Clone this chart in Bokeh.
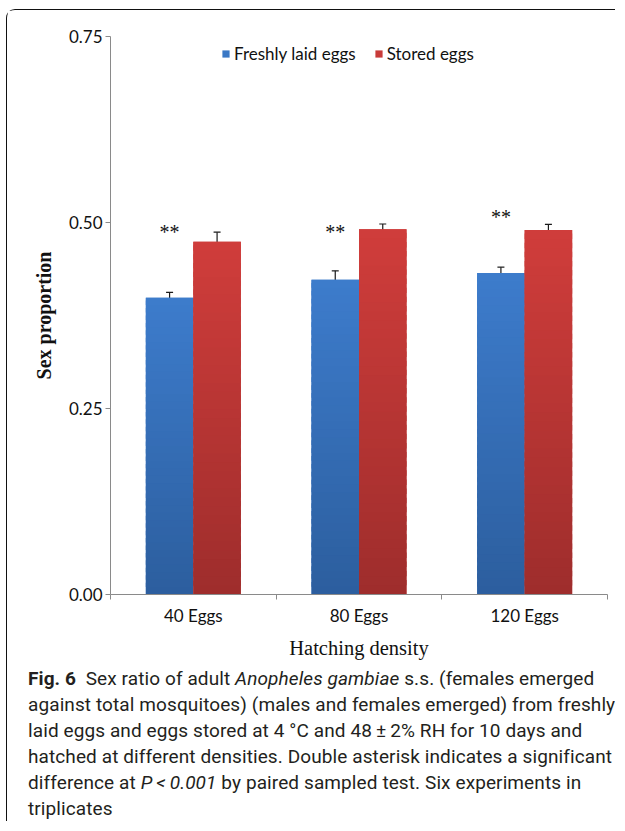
from bokeh.plotting import figure
from bokeh.models import (Range1d, FixedTicker, PrintfTickFormatter, Legend, LegendItem,
                          ColumnDataSource, Whisker, TeeHead, Div)
from bokeh.layouts import column
from bokeh.core.properties import value
from bokeh.embed import file_html
from bokeh.resources import INLINE

# ---- data ----
categories = ["40 Eggs", "80 Eggs", "120 Eggs"]
series_names = ["Freshly laid eggs", "Stored eggs"]
fresh = [0.399, 0.423, 0.432]
fresh_err = [0.007, 0.012, 0.008]
stored = [0.474, 0.491, 0.490]
stored_err = [0.013, 0.007, 0.0075]
sig_y = [0.487, 0.487, 0.508]
sig_text = ["**", "**", "**"]
y_ticks = [0.0, 0.25, 0.50, 0.75]

# ---- styling ----
BLUE_TOP, BLUE_BOT = (61, 124, 204), (44, 94, 158)
RED_TOP, RED_BOT = (208, 61, 59), (158, 45, 44)
AXIS_GREY = "#8a8a8a"
SANS = "Lato"
SERIF = "Liberation Serif"
BAR_W = 0.2867
N_SLICES = 40

p = figure(width=609, height=655, output_backend="svg", toolbar_location=None,
           x_range=Range1d(0, len(categories)), y_range=Range1d(0, 0.75),
           min_border_left=103, min_border_right=9, min_border_top=26, min_border_bottom=71)
p.margin = (9, 0, 0, 6)
p.styles = {"border-top": "1px solid #111", "border-left": "1px solid #111",
            "border-top-left-radius": "9px"}
p.outline_line_color = None
p.xgrid.visible = False
p.ygrid.visible = False
p.background_fill_color = "white"
p.border_fill_color = "white"


def rgb_hex(c):
    return "#%02x%02x%02x" % tuple(int(round(v)) for v in c)


def mix(a, b, t):
    return tuple(a[k] + (b[k] - a[k]) * t for k in range(3))


centers = [i + 0.5 for i in range(len(categories))]
x_fresh = [c - BAR_W / 2 for c in centers]
x_stored = [c + BAR_W / 2 for c in centers]

renderers = []
for xs, vals, ctop, cbot in [(x_fresh, fresh, BLUE_TOP, BLUE_BOT),
                             (x_stored, stored, RED_TOP, RED_BOT)]:
    base = p.vbar(x=xs, top=vals, width=BAR_W, fill_color=rgb_hex(mix(ctop, cbot, 0.15)),
                  line_color=None)
    renderers.append(base)
    # vertical gradient
    sx, sb, st, sc = [], [], [], []
    for x, v in zip(xs, vals):
        for i in range(N_SLICES):
            sx.append(x)
            sb.append(v * i / N_SLICES)
            st.append(v * min(i + 1.6, N_SLICES) / N_SLICES)
            sc.append(rgb_hex(mix(cbot, ctop, (i + 0.5) / N_SLICES)))
    p.vbar(x=sx, bottom=sb, top=st, width=BAR_W, fill_color=sc, line_color=None)

# error bars
for xs, vals, errs in [(x_fresh, fresh, fresh_err), (x_stored, stored, stored_err)]:
    src = ColumnDataSource(dict(x=xs, upper=[v + e for v, e in zip(vals, errs)],
                                lower=[v - e for v, e in zip(vals, errs)]))
    w = Whisker(base="x", upper="upper", lower="lower", source=src,
                line_color="#1a1a1a", line_width=1.2,
                upper_head=TeeHead(size=7, line_color="#1a1a1a", line_width=1.2),
                lower_head=TeeHead(size=7, line_color="#1a1a1a", line_width=1.2))
    p.add_layout(w)

# significance asterisks
p.text(x=x_fresh, y=sig_y, text=sig_text, text_font=value(SERIF), text_font_size="20px",
       text_align="center", text_baseline="middle", text_color="#111")

# axes
xa = p.xaxis[0]
xa.ticker = FixedTicker(ticks=centers, minor_ticks=list(range(len(categories) + 1)))
xa.major_label_overrides = {c: lab for c, lab in zip(centers, categories)}
xa.major_tick_out = 0
xa.major_tick_in = 0
xa.minor_tick_out = 5
xa.minor_tick_in = 0
xa.minor_tick_line_color = AXIS_GREY
xa.axis_line_color = AXIS_GREY
xa.major_label_text_font = SANS
xa.major_label_text_font_size = "17px"
xa.major_label_text_color = "#111"
xa.major_label_standoff = 5
xa.axis_label = "Hatching density"
xa.axis_label_text_font = SERIF
xa.axis_label_text_font_style = "normal"
xa.axis_label_text_font_size = "20.5px"
xa.axis_label_text_color = "#111"
xa.axis_label_standoff = 8

ya = p.yaxis[0]
ya.ticker = FixedTicker(ticks=y_ticks, minor_ticks=[])
ya.formatter = PrintfTickFormatter(format="%.2f")
ya.major_tick_out = 5
ya.major_tick_in = 0
ya.major_tick_line_color = AXIS_GREY
ya.axis_line_color = AXIS_GREY
ya.major_label_text_font = SANS
ya.major_label_text_font_size = "17px"
ya.major_label_text_color = "#111"
ya.major_label_standoff = 3
ya.axis_label = "Sex proportion"
ya.axis_label_text_font = SERIF
ya.axis_label_text_font_style = "bold"
ya.axis_label_text_font_size = "20px"
ya.axis_label_text_color = "#111"
ya.axis_label_standoff = 11

legend = Legend(items=[LegendItem(label=n, renderers=[r]) for n, r in zip(series_names, renderers)],
                orientation="horizontal", location=(111, 530), padding=0, margin=0,
                spacing=18, label_standoff=4, glyph_width=9, glyph_height=9,
                label_height=16, label_text_font=SANS, label_text_font_size="17px",
                label_text_color="#111", border_line_color=None, background_fill_alpha=0)
p.add_layout(legend)

caption_html = (
    "<b>Fig.&nbsp;6</b>&nbsp; Sex ratio of adult <i>Anopheles gambiae</i> s.s. (females emerged<br>"
    "against total mosquitoes) (males and females emerged) from freshly<br>"
    "laid eggs and eggs stored at 4&nbsp;\u00b0C and 48\u2009\u00b1\u20092% RH for 10 days and<br>"
    "hatched at different densities. Double asterisk indicates a significant<br>"
    "difference at <i>P\u2009&lt;\u20090.001</i> by paired sampled test. Six experiments in<br>"
    "triplicates"
)
cap = Div(text=caption_html, width=609, height=157, margin=(0, 0, 0, 6),
          styles={"border-left": "1px solid #111", "padding-left": "21px", "padding-top": "2px",
                  "font-family": "Roboto, 'Open Sans', sans-serif", "font-size": "19px",
                  "letter-spacing": "0.1px",
                  "line-height": "26px", "white-space": "nowrap", "color": "#231f20",
                  "overflow": "hidden", "box-sizing": "border-box"})

layout = column(p, cap, spacing=0)
open("out.html", "w").write(file_html(layout, INLINE))
